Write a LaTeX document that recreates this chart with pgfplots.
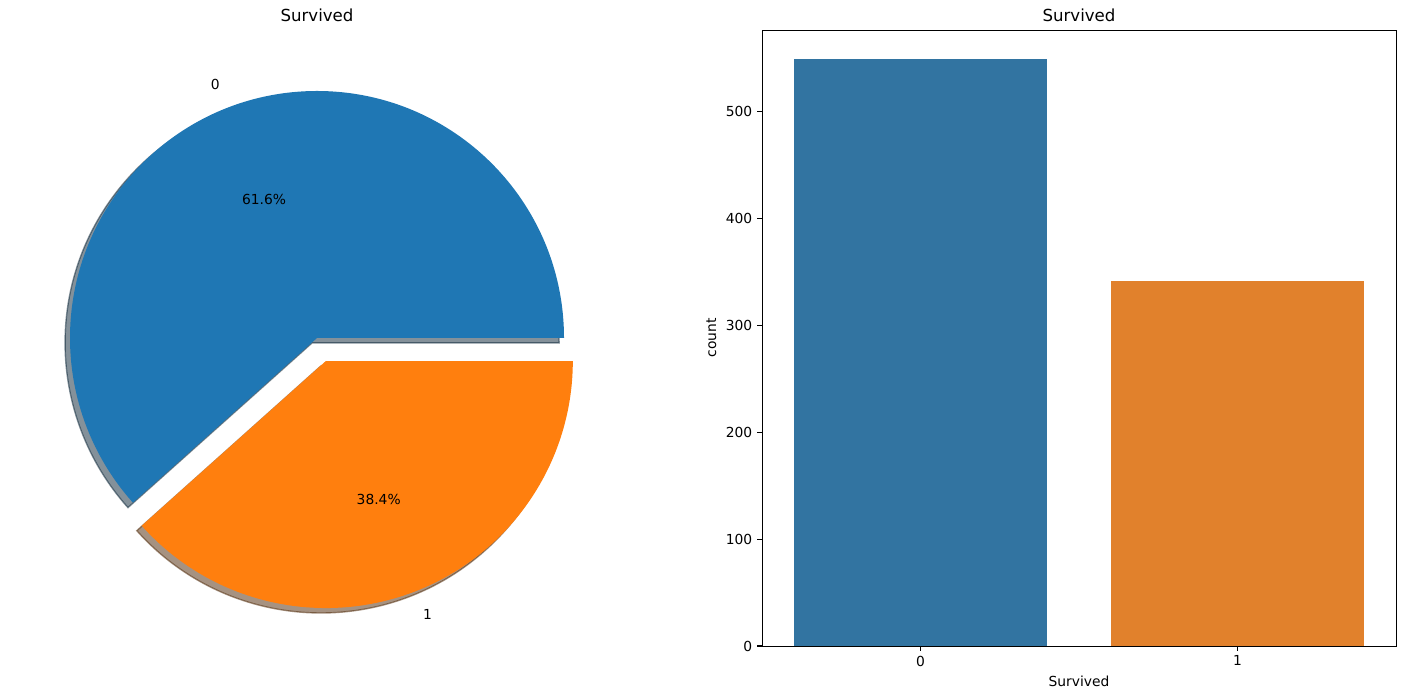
\documentclass[border=0pt]{standalone}
\usepackage{fontspec}
\setmainfont{DejaVu Sans}
\usepackage{pgfplots}
\pgfplotsset{compat=1.18}
\definecolor{pieblue}{HTML}{1F77B4}
\definecolor{pieorange}{HTML}{FF7F0E}
\definecolor{barblue}{HTML}{3274A1}
\definecolor{barorange}{HTML}{E1812C}
\definecolor{shblue}{RGB}{9,36,54}
\definecolor{shorange}{RGB}{77,38,4}
\begin{document}
\begin{tikzpicture}
\useasboundingbox (0,0) rectangle (1011.6bp,503.28bp);
% data: Survived counts
\pgfmathsetmacro{\nA}{549}
\pgfmathsetmacro{\nB}{342}
\pgfmathsetmacro{\fracA}{\nA/(\nA+\nB)}
\pgfmathsetmacro{\fracB}{\nB/(\nA+\nB)}
\pgfmathsetmacro{\angA}{360*\fracA}
\pgfmathsetmacro{\midA}{\angA/2}
\pgfmathsetmacro{\midB}{(\angA+360)/2}
\pgfmathsetmacro{\pA}{100*\fracA}
\pgfmathsetmacro{\pB}{100*\fracB}
\pgfmathsetmacro{\exX}{0.1*cos(\midB)}
\pgfmathsetmacro{\exY}{0.1*sin(\midB)}
\pgfmathsetmacro{\shAx}{-0.02}
\pgfmathsetmacro{\shAy}{-0.02}
\pgfmathsetmacro{\shBx}{\exX-0.02}
\pgfmathsetmacro{\shBy}{\exY-0.02}
\pgfmathsetmacro{\labAx}{1.1*cos(\midA)}
\pgfmathsetmacro{\labAy}{1.1*sin(\midA)}
\pgfmathsetmacro{\labBx}{\exX+1.1*cos(\midB)}
\pgfmathsetmacro{\labBy}{\exY+1.1*sin(\midB)}
\pgfmathsetmacro{\pctAx}{0.6*cos(\midA)}
\pgfmathsetmacro{\pctAy}{0.6*sin(\midA)}
\pgfmathsetmacro{\pctBx}{\exX+0.6*cos(\midB)}
\pgfmathsetmacro{\pctBy}{\exY+0.6*sin(\midB)}
\def\R{177.84bp}
\begin{axis}[at={(6.48bp,38.16bp)}, anchor=south west, scale only axis,
  width=443.52bp, height=443.52bp,
  xmin=-1.247, xmax=1.247, ymin=-1.247, ymax=1.247,
  axis lines=none, xtick=\empty, ytick=\empty, clip=false]
% title
\node[anchor=base, inner sep=0pt, font=\fontsize{12}{14}\selectfont] at ([yshift=6pt]rel axis cs:0.5,1) {Survived};
% shadows
\filldraw[fill=shblue, draw=shblue, opacity=0.5, line width=1pt]
  (axis cs:\shAx,\shAy) -- ++(0:\R) arc[start angle=0, end angle=\angA, radius=\R] -- cycle;
\filldraw[fill=shorange, draw=shorange, opacity=0.5, line width=1pt]
  (axis cs:\shBx,\shBy) -- ++(\angA:\R) arc[start angle=\angA, end angle=360, radius=\R] -- cycle;
% wedges
\fill[pieblue] (axis cs:0,0) -- ++(0:\R) arc[start angle=0, end angle=\angA, radius=\R] -- cycle;
\fill[pieorange] (axis cs:\exX,\exY) -- ++(\angA:\R) arc[start angle=\angA, end angle=360, radius=\R] -- cycle;
% labels
\node[anchor=east, inner sep=0pt, font=\fontsize{10}{12}\selectfont] at (axis cs:\labAx,\labAy) {0};
\node[anchor=west, inner sep=0pt, font=\fontsize{10}{12}\selectfont] at (axis cs:\labBx,\labBy) {1};
\node[inner sep=0pt, font=\fontsize{10}{12}\selectfont] at (axis cs:\pctAx,\pctAy) {\pgfmathprintnumber[fixed,precision=1,fixed zerofill,assume math mode=true]{\pA}\%};
\node[inner sep=0pt, font=\fontsize{10}{12}\selectfont] at (axis cs:\pctBx,\pctBy) {\pgfmathprintnumber[fixed,precision=1,fixed zerofill,assume math mode=true]{\pB}\%};
\end{axis}
\begin{axis}[at={(548.64bp,38.16bp)}, anchor=south west, scale only axis,
  width=456.48bp, height=443.52bp,
  xmin=-0.5, xmax=1.5, ymin=0, ymax=576.45,
  xtick={0,1}, ytick={0,100,200,300,400,500},
  tick align=outside, tick pos=left, major tick length=3.5pt,
  tick style={line width=0.8pt, black},
  axis line style={line width=0.6pt},
  /pgf/number format/assume math mode=true,
  tick label style={font=\fontsize{10}{12}\selectfont},
  label style={font=\fontsize{10}{12}\selectfont},
  xlabel={Survived}, ylabel={count}, clip=false]
\addplot[ybar, bar width=0.8, bar shift=0pt, fill=barblue, draw=none] coordinates {(0,549)};
\addplot[ybar, bar width=0.8, bar shift=0pt, fill=barorange, draw=none] coordinates {(1,342)};
\node[anchor=base, inner sep=0pt, font=\fontsize{12}{14}\selectfont] at ([yshift=6pt]rel axis cs:0.5,1) {Survived};
\end{axis}
\end{tikzpicture}
\end{document}
